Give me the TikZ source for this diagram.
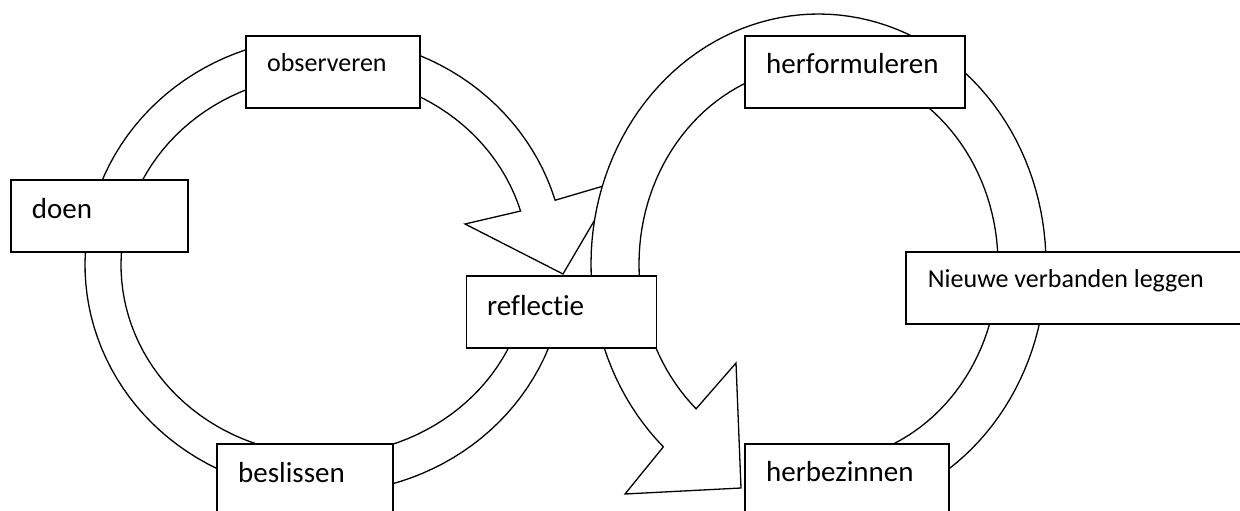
\documentclass[tikz,border=0pt]{standalone}
\usepackage{fontspec}
\setmainfont{Carlito}[Ligatures={NoCommon,NoRare}]
\begin{document}
\begin{tikzpicture}[x=1pt,y=-1pt,
  ring/.style={draw=black,fill=white,line width=1.3pt,line join=miter},
  box/.style={draw=black,fill=white,line width=1.3pt,inner sep=0pt,rectangle},
  biglbl/.style={anchor=base west,inner sep=0pt,font=\fontsize{29}{34}\selectfont},
  smalllbl/.style={anchor=base west,inner sep=0pt,font=\fontsize{26}{31}\selectfont}]
\useasboundingbox (0,0) rectangle (1240,511);
\clip (0,0) rectangle (1240,511);
% left circular arrow
\draw[ring] plot[domain=10:343.5,samples=120,variable=\t] ({325+240*cos(\t)},{265+228*sin(\t)})
  -- (617,182) -- (563,274) -- (465,224)
  -- plot[domain=-343.5:-10,samples=120,variable=\s] ({325+204*cos(-\s)},{265+190*sin(-\s)})
  -- cycle;
% right circular arrow
\draw[ring] plot[domain=-227:70,samples=120,variable=\t] ({818.5+227.5*cos(\t)},{264+250*sin(\t)})
  -- plot[domain=-70:227,samples=120,variable=\s] ({818.5+179.5*cos(-\s)},{264+198*sin(-\s)})
  -- (736,363) -- (741,488) -- (625,494) -- cycle;
% boxes
\node[box,minimum width=174pt,minimum height=72pt] (obs) at (333,72) {};
\node[box,minimum width=177pt,minimum height=72pt] (doen) at (99.5,216) {};
\node[box,minimum width=190.5pt,minimum height=72pt] (refl) at (561.5,312) {};
\node[box,minimum width=176pt,minimum height=86pt] (besl) at (305,487) {};
\node[box,minimum width=220pt,minimum height=72pt] (herf) at (855,72) {};
\node[box,minimum width=344pt,minimum height=72pt] (nieuw) at (1078,288) {};
\node[box,minimum width=204pt,minimum height=86pt] (herb) at (847,487) {};
% labels
\node[smalllbl] (tobs) at (267,71.7) {observeren};
\node[biglbl] (tdoen) at (31.6,218.3) {doen};
\node[biglbl] (trefl) at (487,315) {reflectie};
\node[biglbl] (tbesl) at (238,482.7) {beslissen};
\node[biglbl] (therf) at (766,74) {herformuleren};
\node[smalllbl] (tnieuw) at (927.7,287.3) {Nieuwe verbanden leggen};
\node[biglbl] (therb) at (766,481.7) {herbezinnen};
\end{tikzpicture}
\end{document}
